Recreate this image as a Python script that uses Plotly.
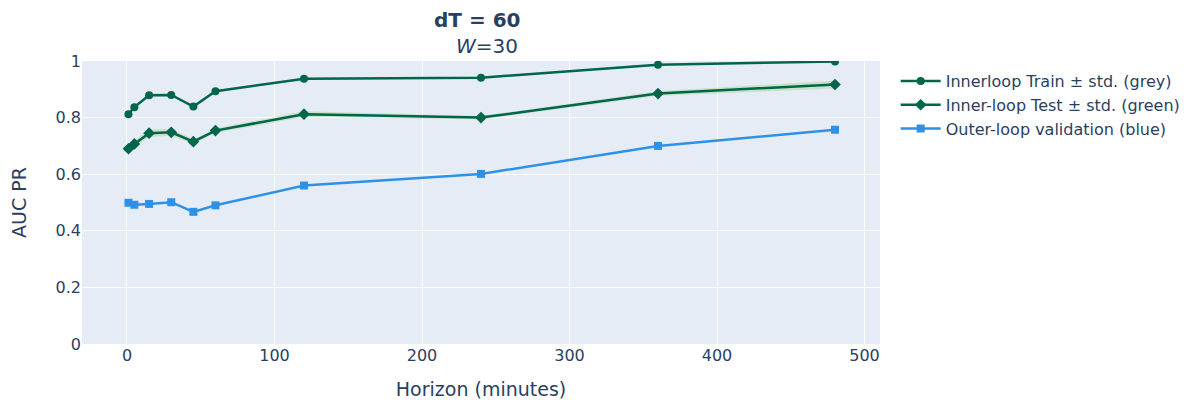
import plotly.graph_objects as go

horizon = [1, 5, 15, 30, 45, 60, 120, 240, 360, 480]
train_mean = [0.812, 0.837, 0.879, 0.880, 0.839, 0.893, 0.937, 0.941, 0.987, 0.998]
train_std = [0.004, 0.004, 0.004, 0.004, 0.004, 0.004, 0.003, 0.003, 0.003, 0.003]
test_mean = [0.690, 0.707, 0.745, 0.748, 0.715, 0.754, 0.812, 0.800, 0.885, 0.917]
test_std = [0.006, 0.012, 0.014, 0.012, 0.008, 0.008, 0.010, 0.006, 0.008, 0.014]
val_mean = [0.499, 0.492, 0.495, 0.501, 0.467, 0.490, 0.560, 0.601, 0.700, 0.757]

green = "#00664a"
blue = "#2e91e5"
FONT = "DejaVu Sans"

fig = go.Figure()

# grey band (train)
fig.add_trace(go.Scatter(x=horizon, y=[m + s for m, s in zip(train_mean, train_std)],
                         mode="lines", line=dict(width=0), showlegend=False, hoverinfo="skip"))
fig.add_trace(go.Scatter(x=horizon, y=[m - s for m, s in zip(train_mean, train_std)],
                         mode="lines", line=dict(width=0), fill="tonexty",
                         fillcolor="rgba(128,128,128,0.2)", showlegend=False, hoverinfo="skip"))
# green band (test)
fig.add_trace(go.Scatter(x=horizon, y=[m + s for m, s in zip(test_mean, test_std)],
                         mode="lines", line=dict(width=0), showlegend=False, hoverinfo="skip"))
fig.add_trace(go.Scatter(x=horizon, y=[m - s for m, s in zip(test_mean, test_std)],
                         mode="lines", line=dict(width=0), fill="tonexty",
                         fillcolor="rgba(120,190,60,0.25)", showlegend=False, hoverinfo="skip"))

fig.add_trace(go.Scatter(x=horizon, y=train_mean, mode="lines+markers",
                         name="Innerloop Train ± std. (grey)",
                         line=dict(color=green, width=2.5),
                         marker=dict(symbol="circle", size=8, color=green)))
fig.add_trace(go.Scatter(x=horizon, y=test_mean, mode="lines+markers",
                         name="Inner-loop Test ± std. (green)",
                         line=dict(color=green, width=2.5),
                         marker=dict(symbol="diamond", size=9, color=green)))
fig.add_trace(go.Scatter(x=horizon, y=val_mean, mode="lines+markers",
                         name="Outer-loop validation (blue)",
                         line=dict(color=blue, width=2.5),
                         marker=dict(symbol="square", size=8, color=blue)))

fig.add_annotation(text="<b>dT = 60</b>", xref="paper", yref="paper", x=0.495, y=1.145,
                   yanchor="middle", showarrow=False,
                   font=dict(size=20, family=FONT, color="#2a3f5f"))
fig.add_annotation(text="<i>W</i>=30", xref="paper", yref="paper", x=0.507, y=1.053,
                   yanchor="middle", showarrow=False,
                   font=dict(size=20, family=FONT, color="#2a3f5f"))

fig.update_layout(
    width=1182, height=392,
    template="plotly",
    font=dict(size=16, family=FONT),
    margin=dict(l=74, r=310, t=53, b=56),
    legend=dict(xref="container", yref="container", x=0.751, y=0.857,
                xanchor="left", yanchor="top", traceorder="normal",
                itemwidth=40, font=dict(size=16)),
    xaxis=dict(title=dict(text="Horizon (minutes)", standoff=20),
               range=[-30.5, 510.5], dtick=100, zeroline=False, automargin=False),
    yaxis=dict(title=dict(text="AUC PR", standoff=26), range=[0, 1], dtick=0.2,
               zeroline=False, automargin=False),
)

fig.write_html("out.html")
